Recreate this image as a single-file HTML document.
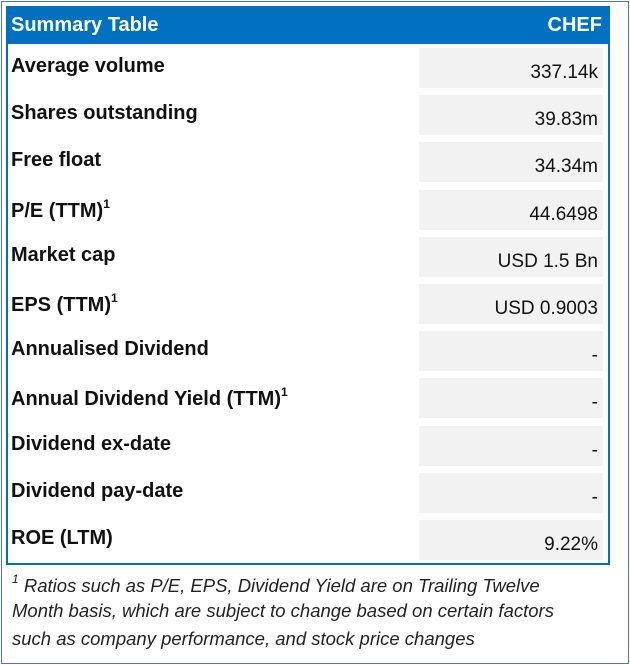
<!DOCTYPE html>
<html><head><meta charset="utf-8"><style>
body{margin:0;width:630px;height:665px;background:#fff;font-family:"Liberation Sans",sans-serif;position:relative;overflow:hidden}
#outer{position:absolute;left:1px;top:1px;width:626px;height:661px;border:1px solid #4a78b8}
#tbl{position:absolute;left:6px;top:6px;width:604px;height:559px;border:2px solid #0070c0;box-sizing:border-box}
#hdr{position:absolute;left:6px;top:6px;width:604px;height:38px;background:#0070c0;color:#fff;font-weight:bold;font-size:20px}
#hdr span{position:absolute;top:8px}
.lab{position:absolute;left:11px;font-weight:bold;font-size:20px;color:#111}
.val{position:absolute;left:419px;width:184px;height:40px;background:#f2f2f2;font-size:19px;color:#111;text-align:right;box-sizing:border-box;padding-right:5px;padding-top:14px}
sup{font-size:12px;vertical-align:9px}
.fn{position:absolute;left:12px;font-style:italic;font-size:18.5px;color:#222}
</style></head><body>
<div id="outer"></div>
<div id="tbl"></div>
<div id="hdr"><span style="left:5px">Summary Table</span><span style="right:8px">CHEF</span></div>
<div id="rows"></div>
<div class="fn" style="top:572px"><sup>1</sup> Ratios such as P/E, EPS, Dividend Yield are on Trailing Twelve</div>
<div class="fn" style="top:600px">Month basis, which are subject to change based on certain factors</div>
<div class="fn" style="top:628px">such as company performance, and stock price changes</div>
<script>
const labels=["Average volume","Shares outstanding","Free float","P/E (TTM)<sup>1</sup>","Market cap","EPS (TTM)<sup>1</sup>","Annualised Dividend","Annual Dividend Yield (TTM)<sup>1</sup>","Dividend ex-date","Dividend pay-date","ROE (LTM)"];
const values=["337.14k","39.83m","34.34m","44.6498","USD 1.5 Bn","USD 0.9003","-","-","-","-","9.22%"];
const rows=document.getElementById('rows');
labels.forEach((l,i)=>{
 const top=48+47.2*i;
 const a=document.createElement('div');a.className='lab';a.style.top=(top+7)+'px';a.innerHTML=l;
 
 
 const v=document.createElement('div');v.className='val';v.style.top=top+'px';v.textContent=values[i];
 
 
 rows.appendChild(a);rows.appendChild(v);
});
</script>
</body></html>
